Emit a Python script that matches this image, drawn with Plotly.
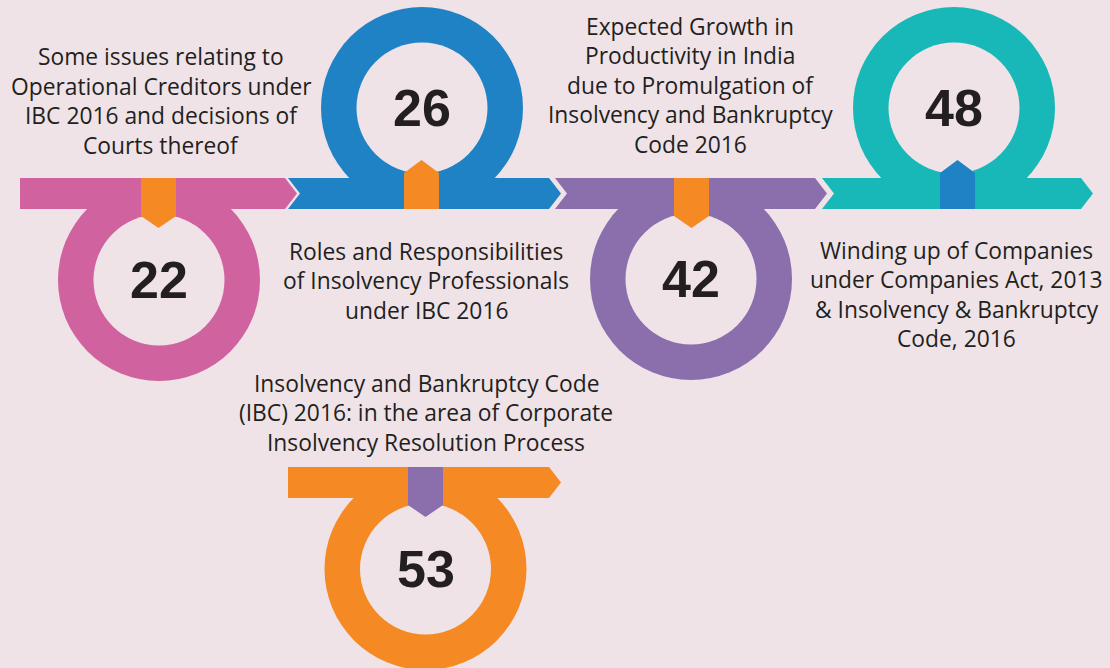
import plotly.graph_objects as go

# ---------------- data ----------------
counts = [22, 26, 42, 48, 53]
titles = [
    ["Some issues relating to", "Operational Creditors under", "IBC 2016 and decisions of", "Courts thereof"],
    ["Roles and Responsibilities", "of Insolvency Professionals", "under IBC 2016"],
    ["Expected Growth in", "Productivity in India", "due to Promulgation of", "Insolvency and Bankruptcy", "Code 2016"],
    ["Winding up of Companies", "under Companies Act, 2013", "& Insolvency & Bankruptcy", "Code, 2016"],
    ["Insolvency and Bankruptcy Code", "(IBC) 2016: in the area of Corporate", "Insolvency Resolution Process"],
]

# ---------------- style / layout ----------------
W, H = 1110, 668
BG = "#EFE3E8"
TXT = "#231F20"
ring_colors = ["#D062A0", "#1F82C4", "#8B6EAC", "#19B8B8", "#F58A24"]
tab_colors = ["#F58A24", "#F58A24", "#F58A24", "#1F82C4", "#8B6EAC"]

ring_cx = [159, 422, 691, 954, 425.5]
ring_cy = [280, 108, 279, 108, 569]
ring_side = ["below", "above", "below", "above", "below"]
tab_cx = [158.5, 421.5, 691.5, 957.5, 425.5]
bar_x0 = [20, 288, 555, 822, 288]
bar_x1 = [285, 549, 815, 1081, 549]
bar_top = [178, 178, 178, 178, 467]
bar_h = 31
notch = [False, True, True, True, False]
R_OUT, R_IN = 101, 65.5
TIP = 12
TAB_W = 35

text_cx = [161, 426, 690, 956.5, 426]
text_y0 = [56.5, 251, 26, 250, 383]
LINE = 29.5
FONT = "'Open Sans', sans-serif"
FSIZE = 22.8

fig = go.Figure()
shapes = []

def circ(cx, cy, r, col):
    return dict(type="circle", xref="x", yref="y", x0=cx - r, x1=cx + r, y0=cy - r, y1=cy + r,
                fillcolor=col, line=dict(width=0), layer="above")

def poly(pts, col):
    p = "M " + " L ".join(f"{x},{y}" for x, y in pts) + " Z"
    return dict(type="path", xref="x", yref="y", path=p, fillcolor=col, line=dict(width=0), layer="above")

# outer circles
for i in range(5):
    shapes.append(circ(ring_cx[i], ring_cy[i], R_OUT, ring_colors[i]))
# bars
for i in range(5):
    t = bar_top[i]
    b = t + bar_h
    m = (t + b) / 2
    x0, x1 = bar_x0[i], bar_x1[i]
    pts = [(x0, t), (x1, t), (x1 + TIP, m), (x1, b), (x0, b)]
    if notch[i]:
        pts.append((x0 + TIP, m))
    shapes.append(poly(pts, ring_colors[i]))
# inner circles
for i in range(5):
    shapes.append(circ(ring_cx[i], ring_cy[i], R_IN, BG))
# tabs
for i in range(5):
    t = bar_top[i]
    b = t + bar_h
    xl, xr = tab_cx[i] - TAB_W / 2, tab_cx[i] + TAB_W / 2
    if ring_side[i] == "below":
        pts = [(xl, t), (xr, t), (xr, b + 7), (tab_cx[i], b + 19), (xl, b + 7)]
    else:
        pts = [(xl, b), (xr, b), (xr, t - 5), (tab_cx[i], t - 18), (xl, t - 5)]
    shapes.append(poly(pts, tab_colors[i]))

annotations = []
for i in range(5):
    annotations.append(dict(x=ring_cx[i], y=ring_cy[i], xref="x", yref="y", text=f"<b>{counts[i]}</b>",
                            showarrow=False, xanchor="center", yanchor="middle",
                            font=dict(family="Liberation Sans, Arial, sans-serif", size=52, color=TXT)))
    for j, line in enumerate(titles[i]):
        annotations.append(dict(x=text_cx[i], y=text_y0[i] + j * LINE, xref="x", yref="y", text=line,
                                showarrow=False, xanchor="center", yanchor="middle",
                                font=dict(family=FONT, size=FSIZE, color=TXT)))

fig.add_trace(go.Scatter(x=[0, W], y=[0, H], mode="markers", marker=dict(opacity=0), hoverinfo="skip",
                         showlegend=False))
fig.update_layout(width=W, height=H, margin=dict(l=0, r=0, t=0, b=0),
                  paper_bgcolor=BG, plot_bgcolor=BG, shapes=shapes, annotations=annotations,
                  xaxis=dict(range=[0, W], visible=False, fixedrange=True),
                  yaxis=dict(range=[H, 0], visible=False, fixedrange=True),
                  showlegend=False)
fig.write_html("out.html", config={"displayModeBar": False},
               post_script="document.body.style.margin='0';document.body.style.background='" + BG + "';")
